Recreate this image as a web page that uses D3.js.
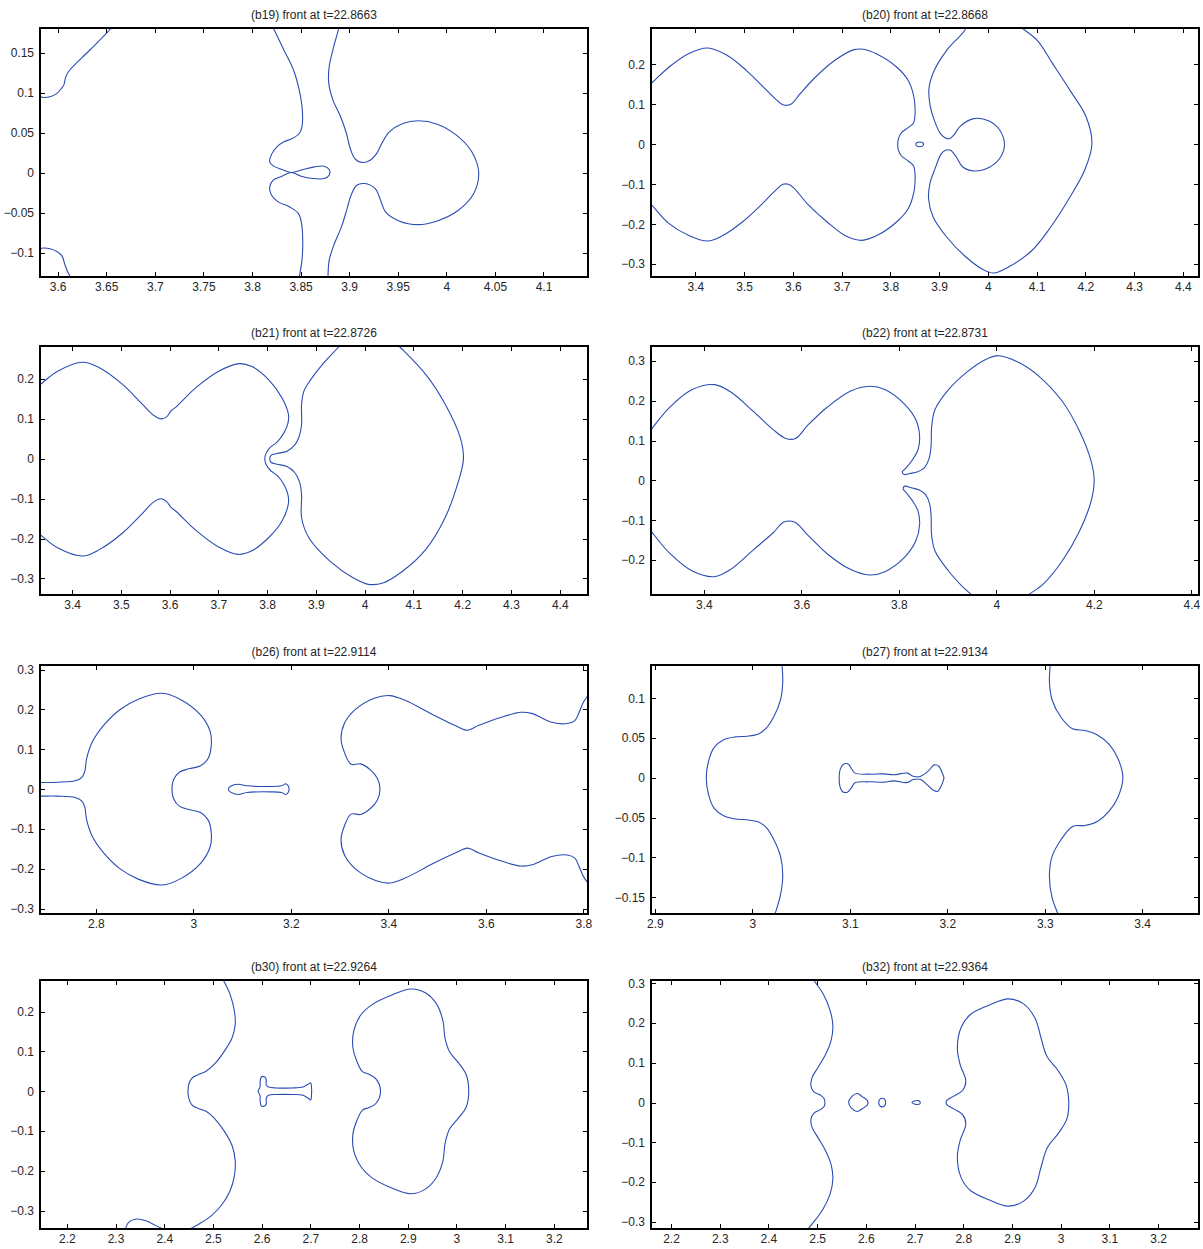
<!DOCTYPE html>
<html lang="en">
<head>
	<meta charset="UTF-8">
	<title>front snapshots</title>
	<style>
		body{ margin:0; background:#fff; }
		.axis path{ display:none; }
		.axis line{ stroke:#000; shape-rendering:crispEdges; }
		.axis text{ font-family:"Liberation Sans", Arial, sans-serif; font-size:12px; fill:#262626; }
		.ttl{ font-family:"Liberation Sans", Arial, sans-serif; font-size:12px; fill:#262626; }
		.front{ fill:none; stroke:#2b4cb3; stroke-width:1.1; }
	</style>
</head>
<body>
	<script src="https://d3js.org/d3.v7.min.js"></script>
	<script>
		// titles
		var titles = ['(b19) front at t=22.8663','(b20) front at t=22.8668','(b21) front at t=22.8726','(b22) front at t=22.8731',
			'(b26) front at t=22.9114','(b27) front at t=22.9134','(b30) front at t=22.9264','(b32) front at t=22.9364'];

		// axis limits
		var xLims = [[3.5818,4.1458],[3.309,4.433],[3.334,4.458],[3.2917,4.4158],[2.6852,3.8095],[2.896,3.4583],[2.1449,3.2701],[2.1589,3.2839]];
		var yLims = [[-0.1306,0.1807],[-0.3322,0.2913],[-0.3414,0.2830],[-0.2876,0.3378],[-0.3133,0.3116],[-0.1710,0.1417],[-0.3458,0.2792],[-0.3183,0.3083]];

		// tick values
		var xTicks = [
			[3.6,3.65,3.7,3.75,3.8,3.85,3.9,3.95,4,4.05,4.1],
			[3.4,3.5,3.6,3.7,3.8,3.9,4,4.1,4.2,4.3,4.4],
			[3.4,3.5,3.6,3.7,3.8,3.9,4,4.1,4.2,4.3,4.4],
			[3.4,3.6,3.8,4,4.2,4.4],
			[2.8,3,3.2,3.4,3.6,3.8],
			[2.9,3,3.1,3.2,3.3,3.4],
			[2.2,2.3,2.4,2.5,2.6,2.7,2.8,2.9,3,3.1,3.2],
			[2.2,2.3,2.4,2.5,2.6,2.7,2.8,2.9,3,3.1,3.2]
		];
		var yTicks = [
			[-0.1,-0.05,0,0.05,0.1,0.15],
			[-0.3,-0.2,-0.1,0,0.1,0.2],
			[-0.3,-0.2,-0.1,0,0.1,0.2],
			[-0.2,-0.1,0,0.1,0.2,0.3],
			[-0.3,-0.2,-0.1,0,0.1,0.2,0.3],
			[-0.15,-0.1,-0.05,0,0.05,0.1],
			[-0.3,-0.2,-0.1,0,0.1,0.2],
			[-0.3,-0.2,-0.1,0,0.1,0.2,0.3]
		];

		// ---- front curves (x, y) ----
		// b19
		var b19_a = [[3.6592,0.1870],[3.6553,0.1807],[3.6331,0.1532],[3.6110,0.1260],[3.6079,0.1177],[3.6063,0.1093],[3.6039,0.1052],[3.5992,0.0989],[3.5921,0.0947],[3.5850,0.0939],[3.5803,0.0956]];
		var b19_b = [[3.5803,-0.0956],[3.5850,-0.0943],[3.5921,-0.0952],[3.6,-0.0993],[3.6047,-0.1048],[3.6071,-0.1139],[3.6099,-0.1231],[3.6150,-0.1348]];
		var b19_c = [[3.8190,0.1866],[3.8218,0.1807],[3.8328,0.1532],[3.8427,0.1282],[3.8486,0.1031],[3.8518,0.0781],[3.8514,0.0572],[3.8486,0.0488],[3.8415,0.0426],[3.8328,0.0384],[3.8257,0.0321],[3.8202,0.0230],[3.8182,0.0134],[3.8218,0.0083],[3.8309,0.0038],[3.8407,0],[3.8526,0.0038],[3.8644,0.0071],[3.8743,0.0079],[3.8794,0.0038],[3.8794,-0.0033],[3.8743,-0.0075],[3.8624,-0.0075],[3.8506,-0.0046],[3.8407,0],[3.8309,-0.0046],[3.8218,-0.0096],[3.8182,-0.0179],[3.8202,-0.0284],[3.8269,-0.0367],[3.8388,-0.0430],[3.8478,-0.0513],[3.8510,-0.0639],[3.8522,-0.0847],[3.8514,-0.1098],[3.8486,-0.1306],[3.8474,-0.1369]];
		var b19_d = [[3.8901,0.1866],[3.8893,0.1807],[3.8841,0.1573],[3.8794,0.1323],[3.8790,0.1114],[3.8833,0.0906],[3.8912,0.0697],[3.8972,0.0488],[3.9011,0.0301],[3.9058,0.0175],[3.9137,0.0125],[3.9216,0.0154],[3.9287,0.0246],[3.9335,0.0363],[3.9414,0.0509],[3.9552,0.0614],[3.9710,0.0647],[3.9907,0.0605],[4.0104,0.0467],[4.0262,0.0259],[4.0333,0],[4.0282,-0.0263],[4.0124,-0.0472],[3.9907,-0.0605],[3.9710,-0.0651],[3.9512,-0.0605],[3.9374,-0.0492],[3.9323,-0.0346],[3.9268,-0.0200],[3.9157,-0.0138],[3.9078,-0.0159],[3.9019,-0.0284],[3.8979,-0.0451],[3.8920,-0.0680],[3.8841,-0.0910],[3.8794,-0.1098],[3.8782,-0.1306],[3.8782,-0.1369]];

		// b20
		var b20_a = [[3.2988,0.1411],[3.3091,0.1519],[3.3462,0.1937],[3.3858,0.2270],[3.4253,0.2412],[3.4648,0.2229],[3.5043,0.1853],[3.5360,0.1477],[3.5636,0.1144],[3.5755,0.1018],[3.5850,0.0977],[3.5976,0.1018],[3.6150,0.1269],[3.6466,0.1686],[3.6862,0.2104],[3.7257,0.2371],[3.7455,0.2379],[3.7731,0.2254],[3.8126,0.1937],[3.8364,0.1603],[3.8482,0.1185],[3.8506,0.0768],[3.8474,0.0534],[3.8364,0.0417],[3.8229,0.0292],[3.8166,0.0142],[3.8150,0],[3.8166,-0.0150],[3.8229,-0.0292],[3.8364,-0.0417],[3.8474,-0.0534],[3.8506,-0.0776],[3.8482,-0.1194],[3.8364,-0.1611],[3.8126,-0.1945],[3.7731,-0.2279],[3.7415,-0.2404],[3.7099,-0.2304],[3.6704,-0.1945],[3.6308,-0.1503],[3.6032,-0.1110],[3.5913,-0.1002],[3.5794,-0.1002],[3.5660,-0.1135],[3.5360,-0.1503],[3.4964,-0.1945],[3.4569,-0.2279],[3.4253,-0.2421],[3.3858,-0.2279],[3.3462,-0.1987],[3.3091,-0.1503],[3.2988,-0.1386]];
		var b20_b = [[3.8522,0],[3.8545,0.0045],[3.8601,0.0060],[3.8657,0.0045],[3.8680,0],[3.8657,-0.0045],[3.8601,-0.0060],[3.8545,-0.0045]];
		var b20_c = [[3.9510,0.3022],[3.9549,0.2913],[3.9154,0.2354],[3.8901,0.1853],[3.8791,0.1394],[3.8814,0.0977],[3.8901,0.0601],[3.9028,0.0267],[3.9130,0.0159],[3.9217,0.0142],[3.9312,0.0250],[3.9431,0.0451],[3.9708,0.0643],[4.0024,0.0584],[4.0245,0.0351],[4.0340,0],[4.0261,-0.0317],[4.0040,-0.0568],[3.9723,-0.0668],[3.9486,-0.0568],[3.9352,-0.0317],[3.9233,-0.0150],[3.9130,-0.0150],[3.9036,-0.0250],[3.8917,-0.0609],[3.8814,-0.0968],[3.8783,-0.1361],[3.8877,-0.1820],[3.9154,-0.2320],[3.9549,-0.2821],[3.9905,-0.3139],[4.0119,-0.3222],[4.0419,-0.3072],[4.0893,-0.2671],[4.1289,-0.2070],[4.1684,-0.1319],[4.1984,-0.0651],[4.2134,0],[4.2016,0.0684],[4.1684,0.1352],[4.1328,0.2020],[4.1012,0.2604],[4.0696,0.2913],[4.0577,0.3022]];

		// b21
		var b21_a = [[3.3229,0.1778],[3.3339,0.1861],[3.3701,0.2195],[3.4212,0.2421],[3.4566,0.2279],[3.5039,0.1861],[3.5432,0.1377],[3.5668,0.1094],[3.5825,0.1002],[3.5943,0.1060],[3.6022,0.1194],[3.6140,0.1311],[3.6533,0.1778],[3.7006,0.2195],[3.7415,0.2387],[3.7674,0.2321],[3.8028,0.1987],[3.8304,0.1528],[3.8437,0.1110],[3.8422,0.0876],[3.8343,0.0651],[3.8202,0.0417],[3.8068,0.0292],[3.7981,0.0150],[3.7950,0],[3.7981,-0.0150],[3.8068,-0.0292],[3.8202,-0.0417],[3.8343,-0.0643],[3.8422,-0.0876],[3.8437,-0.1102],[3.8304,-0.1561],[3.8028,-0.1978],[3.7674,-0.2312],[3.7399,-0.2396],[3.7006,-0.2212],[3.6533,-0.1786],[3.6140,-0.1327],[3.6022,-0.1210],[3.5943,-0.1077],[3.5825,-0.1002],[3.5668,-0.1085],[3.5432,-0.1377],[3.5039,-0.1853],[3.4566,-0.2270],[3.4212,-0.2437],[3.3701,-0.2229],[3.3339,-0.1895],[3.3229,-0.1795]];
		var b21_b = [[3.9563,0.2947],[3.9484,0.2830],[3.9130,0.2362],[3.8894,0.1987],[3.8752,0.1694],[3.8705,0.1361],[3.8705,0.0860],[3.8658,0.0568],[3.8563,0.0342],[3.8406,0.0192],[3.8201,0.0134],[3.8083,0.0092],[3.8052,0],[3.8083,-0.0092],[3.8201,-0.0134],[3.8406,-0.0192],[3.8563,-0.0342],[3.8658,-0.0559],[3.8705,-0.0893],[3.8705,-0.1477],[3.8855,-0.1978],[3.9287,-0.2563],[3.9759,-0.2980],[4.0074,-0.3147],[4.0389,-0.3105],[4.0782,-0.2813],[4.1254,-0.2270],[4.1648,-0.1477],[4.1923,-0.0559],[4.2025,0],[4.1962,0.0526],[4.1648,0.1377],[4.1254,0.2112],[4.0703,0.2830],[4.0609,0.2947]];

		// b22
		var b22_a = [[3.2814,0.1137],[3.2917,0.1279],[3.3289,0.1823],[3.3763,0.2283],[3.4221,0.2408],[3.4553,0.2224],[3.5028,0.1722],[3.5423,0.1279],[3.5684,0.1054],[3.5881,0.1054],[3.6134,0.1388],[3.6530,0.1839],[3.7004,0.2241],[3.7399,0.2366],[3.7715,0.2283],[3.8111,0.1923],[3.8348,0.1530],[3.8427,0.1112],[3.8395,0.0778],[3.8285,0.0527],[3.8150,0.0318],[3.8071,0.0217],[3.8111,0.0151],[3.8229,0.0176],[3.8387,0.0217],[3.8522,0.0318],[3.8625,0.0569],[3.8664,0.0903],[3.8672,0.1321],[3.8743,0.1781],[3.9020,0.2283],[3.9415,0.2742],[3.9771,0.3035],[4.0047,0.3135],[4.0482,0.2952],[4.0877,0.2617],[4.1352,0.1990],[4.1708,0.1237],[4.1945,0.0485],[4.2008,0],[4.1945,-0.0518],[4.1708,-0.1271],[4.1352,-0.2023],[4.0957,-0.2609],[4.0656,-0.2876],[4.0561,-0.2985]];
		var b22_b = [[3.2814,-0.1120],[3.2917,-0.1271],[3.3289,-0.1814],[3.3763,-0.2274],[3.4221,-0.2416],[3.4553,-0.2232],[3.5028,-0.1731],[3.5423,-0.1313],[3.5644,-0.1045],[3.5858,-0.1045],[3.6134,-0.1371],[3.6530,-0.1839],[3.7004,-0.2232],[3.7399,-0.2375],[3.7715,-0.2291],[3.8111,-0.1940],[3.8348,-0.1522],[3.8427,-0.1104],[3.8395,-0.0769],[3.8285,-0.0518],[3.8166,-0.0326],[3.8087,-0.0201],[3.8126,-0.0142],[3.8253,-0.0184],[3.8411,-0.0234],[3.8545,-0.0351],[3.8632,-0.0585],[3.8664,-0.0936],[3.8672,-0.1355],[3.8743,-0.1773],[3.9020,-0.2274],[3.9296,-0.2651],[3.9494,-0.2876],[3.9581,-0.2985]];

		// b26
		var b26_a = [[2.6741,0.0167],[2.6852,0.0167],[2.7216,0.0175],[2.7572,0.0209],[2.7707,0.0292],[2.7770,0.0443],[2.7810,0.0777],[2.7929,0.1195],[2.8166,0.1612],[2.8483,0.1988],[2.8879,0.2264],[2.9354,0.2406],[2.9750,0.2239],[3.0146,0.1863],[3.0344,0.1445],[3.0367,0.1111],[3.0304,0.0777],[3.0146,0.0585],[2.9908,0.0510],[2.9710,0.0426],[2.9591,0.0234],[2.9560,0],[2.9591,-0.0234],[2.9710,-0.0426],[2.9908,-0.0510],[3.0146,-0.0585],[3.0304,-0.0777],[3.0367,-0.1111],[3.0344,-0.1445],[3.0146,-0.1863],[2.9750,-0.2239],[2.9354,-0.2406],[2.8879,-0.2264],[2.8483,-0.1988],[2.8166,-0.1612],[2.7929,-0.1195],[2.7810,-0.0777],[2.7770,-0.0443],[2.7707,-0.0292],[2.7572,-0.0209],[2.7216,-0.0175],[2.6852,-0.0175],[2.6741,-0.0175]];
		var b26_b = [[3.0716,0],[3.0763,0.0075],[3.0922,0.0125],[3.1096,0.0084],[3.1571,0.0067],[3.1808,0.0084],[3.1895,0.0134],[3.1951,0.0067],[3.1951,-0.0067],[3.1895,-0.0134],[3.1808,-0.0084],[3.1571,-0.0067],[3.1096,-0.0084],[3.0922,-0.0134],[3.0763,-0.0075]];
		var b26_c = [[3.8158,0.2448],[3.8095,0.2348],[3.8000,0.2180],[3.7905,0.1905],[3.7826,0.1721],[3.7667,0.1646],[3.7351,0.1679],[3.6955,0.1896],[3.6717,0.1930],[3.6321,0.1805],[3.5846,0.1596],[3.5625,0.1479],[3.5371,0.1596],[3.4896,0.1880],[3.4342,0.2231],[3.4025,0.2348],[3.3709,0.2281],[3.3313,0.1988],[3.3099,0.1654],[3.3028,0.1278],[3.3091,0.0944],[3.3234,0.0627],[3.3432,0.0635],[3.3630,0.0485],[3.3772,0.0276],[3.3827,0],[3.3772,-0.0276],[3.3630,-0.0485],[3.3432,-0.0635],[3.3234,-0.0627],[3.3091,-0.0944],[3.3028,-0.1278],[3.3099,-0.1654],[3.3313,-0.1988],[3.3709,-0.2281],[3.4025,-0.2356],[3.4342,-0.2231],[3.4896,-0.1880],[3.5371,-0.1604],[3.5625,-0.1479],[3.5846,-0.1596],[3.6321,-0.1805],[3.6717,-0.1930],[3.6955,-0.1896],[3.7351,-0.1688],[3.7667,-0.1654],[3.7826,-0.1729],[3.7905,-0.1921],[3.8000,-0.2189],[3.8095,-0.2356],[3.8158,-0.2439]];

		// b27
		var b27_a = [[3.0305,0.1459],[3.0305,0.1417],[3.0312,0.1208],[3.0289,0.0978],[3.0221,0.0769],[3.0142,0.0623],[3.0063,0.0552],[2.9944,0.0523],[2.9825,0.0514],[2.9706,0.0477],[2.9607,0.0380],[2.9551,0.0213],[2.9527,0],[2.9551,-0.0213],[2.9607,-0.0380],[2.9706,-0.0477],[2.9825,-0.0518],[2.9944,-0.0527],[3.0063,-0.0556],[3.0142,-0.0623],[3.0221,-0.0778],[3.0289,-0.0987],[3.0312,-0.1225],[3.0289,-0.1467],[3.0233,-0.1710],[3.0221,-0.1760]];
		var b27_b = [[3.3056,0.1459],[3.3056,0.1417],[3.3048,0.1208],[3.3076,0.0978],[3.3167,0.0761],[3.3286,0.0615],[3.3413,0.0594],[3.3540,0.0539],[3.3659,0.0422],[3.3750,0.0247],[3.3802,0],[3.3750,-0.0247],[3.3659,-0.0422],[3.3540,-0.0548],[3.3413,-0.0598],[3.3286,-0.0610],[3.3167,-0.0778],[3.3076,-0.0987],[3.3048,-0.1225],[3.3076,-0.1509],[3.3136,-0.1710],[3.3151,-0.1760]];
		var b27_c = [[3.0891,0],[3.0903,0.0113],[3.0935,0.0171],[3.0987,0.0171],[3.1014,0.0121],[3.1054,0.0059],[3.1193,0.0046],[3.1351,0.0050],[3.1450,0.0038],[3.1589,0.0059],[3.1649,0.0021],[3.1728,0.0021],[3.1807,0.0088],[3.1867,0.0163],[3.1914,0.0146],[3.1946,0.0067],[3.1966,0],[3.1946,-0.0079],[3.1899,-0.0171],[3.1851,-0.0151],[3.1795,-0.0088],[3.1728,-0.0021],[3.1649,-0.0021],[3.1589,-0.0059],[3.1450,-0.0038],[3.1351,-0.0054],[3.1193,-0.0050],[3.1054,-0.0063],[3.1014,-0.0130],[3.0975,-0.0180],[3.0923,-0.0171],[3.0899,-0.0109]];

		// b30
		var b30_a = [[2.5165,0.2925],[2.5213,0.2792],[2.5354,0.2425],[2.5441,0.2008],[2.5457,0.1675],[2.5394,0.1342],[2.5236,0.1008],[2.5039,0.0692],[2.4866,0.0508],[2.4685,0.0408],[2.4567,0.0325],[2.4504,0.0175],[2.4488,0],[2.4504,-0.0175],[2.4567,-0.0342],[2.4685,-0.0425],[2.4866,-0.0508],[2.5039,-0.0692],[2.5236,-0.1008],[2.5394,-0.1367],[2.5457,-0.1742],[2.5441,-0.2117],[2.5354,-0.2492],[2.5197,-0.2825],[2.4976,-0.3117],[2.4724,-0.3325],[2.4528,-0.3458],[2.4394,-0.3542]];
		var b30_b = [[2.3150,-0.3542],[2.3197,-0.3458],[2.3268,-0.3292],[2.3425,-0.3208],[2.3622,-0.3250],[2.3819,-0.3367],[2.3976,-0.3458],[2.4094,-0.3525]];
		var b30_c = [[2.5992,0.0358],[2.6063,0.0358],[2.6094,0.0300],[2.6094,0.0158],[2.6142,0.0108],[2.6299,0.0083],[2.6614,0.0083],[2.6850,0.0108],[2.6953,0.0175],[2.7008,0.0208],[2.7024,0.0092],[2.7024,-0.0075],[2.7008,-0.0217],[2.6953,-0.0175],[2.6850,-0.0100],[2.6614,-0.0083],[2.6299,-0.0083],[2.6142,-0.0100],[2.6094,-0.0175],[2.6094,-0.0325],[2.6047,-0.0375],[2.5992,-0.0367],[2.5969,-0.0242],[2.5969,-0.0117],[2.5929,0],[2.5969,0.0117],[2.5969,0.0242]];
		var b30_d = [[2.9055,0.2567],[2.9370,0.2467],[2.9591,0.2192],[2.9724,0.1758],[2.9764,0.1342],[2.9858,0.0992],[3.0039,0.0717],[3.0197,0.0425],[3.0252,0],[3.0197,-0.0408],[3.0039,-0.0675],[2.9858,-0.0950],[2.9764,-0.1325],[2.9724,-0.1742],[2.9591,-0.2158],[2.9370,-0.2450],[2.9055,-0.2575],[2.8661,-0.2425],[2.8268,-0.2175],[2.8047,-0.1908],[2.7890,-0.1492],[2.7874,-0.1075],[2.7953,-0.0742],[2.8071,-0.0475],[2.8205,-0.0408],[2.8346,-0.0308],[2.8441,0],[2.8346,0.0308],[2.8205,0.0425],[2.8071,0.0492],[2.7953,0.0758],[2.7874,0.1092],[2.7890,0.1508],[2.8031,0.1908],[2.8268,0.2175],[2.8661,0.2408]];

		// b32
		var b32_a = [[2.4872,0.3200],[2.4927,0.3083],[2.5125,0.2732],[2.5267,0.2314],[2.5323,0.1921],[2.5283,0.1546],[2.5172,0.1211],[2.5014,0.0877],[2.4896,0.0627],[2.4872,0.0418],[2.4927,0.0276],[2.5070,0.0184],[2.5141,0.0100],[2.5149,-0.0084],[2.5085,-0.0167],[2.4935,-0.0267],[2.4872,-0.0418],[2.4896,-0.0627],[2.5014,-0.0877],[2.5172,-0.1211],[2.5283,-0.1546],[2.5323,-0.1921],[2.5267,-0.2297],[2.5125,-0.2673],[2.4967,-0.2949],[2.4809,-0.3183],[2.4729,-0.3283]];
		var b32_b = [[2.5647,0],[2.5703,0.0142],[2.5821,0.0226],[2.5932,0.0142],[2.6035,0.0042],[2.6035,-0.0058],[2.5932,-0.0150],[2.5821,-0.0226],[2.5703,-0.0142]];
		var b32_c = [[2.6264,0],[2.6288,0.0084],[2.6335,0.0109],[2.6383,0.0084],[2.6406,0],[2.6383,-0.0084],[2.6335,-0.0109],[2.6288,-0.0084]];
		var b32_d = [[2.6945,0],[2.7009,0.0042],[2.7073,0.0050],[2.7112,0.0017],[2.7112,-0.0025],[2.7073,-0.0050],[2.7009,-0.0042]];
		var b32_e = [[2.8922,0.2607],[2.9239,0.2481],[2.9476,0.2114],[2.9595,0.1629],[2.9714,0.1170],[2.9951,0.0794],[3.0109,0.0443],[3.0165,0],[3.0125,-0.0418],[2.9951,-0.0777],[2.9729,-0.1128],[2.9595,-0.1629],[2.9476,-0.2130],[2.9239,-0.2481],[2.8922,-0.2607],[2.8527,-0.2448],[2.8147,-0.2214],[2.7957,-0.1896],[2.7878,-0.1378],[2.7934,-0.0961],[2.8052,-0.0543],[2.7989,-0.0309],[2.7815,-0.0167],[2.7657,-0.0042],[2.7657,0.0042],[2.7815,0.0167],[2.7989,0.0309],[2.8052,0.0543],[2.7934,0.0961],[2.7878,0.1378],[2.7957,0.1896],[2.8147,0.2214],[2.8527,0.2448]];

		// open curves leave the box, closed ones are loops
		var openCurves = [[b19_a,b19_b,b19_c,b19_d],[b20_a,b20_c],[b21_a,b21_b],[b22_a,b22_b],[b26_a,b26_c],[b27_a,b27_b],[b30_a,b30_b],[b32_a]];
		var closedCurves = [[],[b20_b],[],[],[b26_b],[b27_c],[b30_c,b30_d],[b32_b,b32_c,b32_d,b32_e]];

		var width = 1203, height = 1249;
		var colX = [40, 651], rowY = [28, 346, 665, 980];
		var pw = 548, ph = 249;

		var fmt = function(d){ return d < 0 ? '\u2212' + (-d) : String(d); };

		var svg = d3.select('body').append('svg')
			.attr('width', width)
			.attr('height', height);
		svg.append('rect').attr('width', width).attr('height', height).attr('fill', '#fff');

		titles.forEach(function(t, i){
			var ox = colX[i % 2], oy = rowY[Math.floor(i / 2)];
			var x = d3.scaleLinear().domain(xLims[i]).range([0, pw]);
			var y = d3.scaleLinear().domain(yLims[i]).range([ph, 0]);
			var g = svg.append('g').attr('transform', 'translate(' + ox + ',' + oy + ')');

			g.append('clipPath').attr('id', 'clip' + i)
				.append('rect').attr('width', pw).attr('height', ph);

			var lineOpen = d3.line().x(function(d){ return x(d[0]); }).y(function(d){ return y(d[1]); })
				.curve(d3.curveCatmullRom);
			var lineClosed = d3.line().x(function(d){ return x(d[0]); }).y(function(d){ return y(d[1]); })
				.curve(d3.curveCatmullRomClosed);

			var plot = g.append('g').attr('clip-path', 'url(#clip' + i + ')');
			plot.selectAll('path.o').data(openCurves[i]).enter().append('path')
				.attr('class', 'front o').attr('d', lineOpen);
			plot.selectAll('path.c').data(closedCurves[i]).enter().append('path')
				.attr('class', 'front c').attr('d', lineClosed);

			// axes, ticks pointing inward like matlab
			g.append('g').attr('class', 'axis').attr('transform', 'translate(0,' + ph + ')')
				.call(d3.axisBottom(x).tickValues(xTicks[i]).tickSizeInner(-5).tickSizeOuter(0).tickPadding(5).tickFormat(fmt));
			g.append('g').attr('class', 'axis')
				.call(d3.axisTop(x).tickValues(xTicks[i]).tickSizeInner(-5).tickSizeOuter(0).tickFormat(''));
			g.append('g').attr('class', 'axis')
				.call(d3.axisLeft(y).tickValues(yTicks[i]).tickSizeInner(-5).tickSizeOuter(0).tickPadding(6).tickFormat(fmt));
			g.append('g').attr('class', 'axis').attr('transform', 'translate(' + pw + ',0)')
				.call(d3.axisRight(y).tickValues(yTicks[i]).tickSizeInner(-5).tickSizeOuter(0).tickFormat(''));

			g.append('rect').attr('width', pw).attr('height', ph)
				.attr('fill', 'none').attr('stroke', '#000').attr('stroke-width', 1.2)
				.attr('shape-rendering', 'crispEdges');

			g.append('text').attr('class', 'ttl')
				.attr('x', pw / 2).attr('y', -9)
				.attr('text-anchor', 'middle')
				.text(t);
		});
	</script>
</body>
</html>
